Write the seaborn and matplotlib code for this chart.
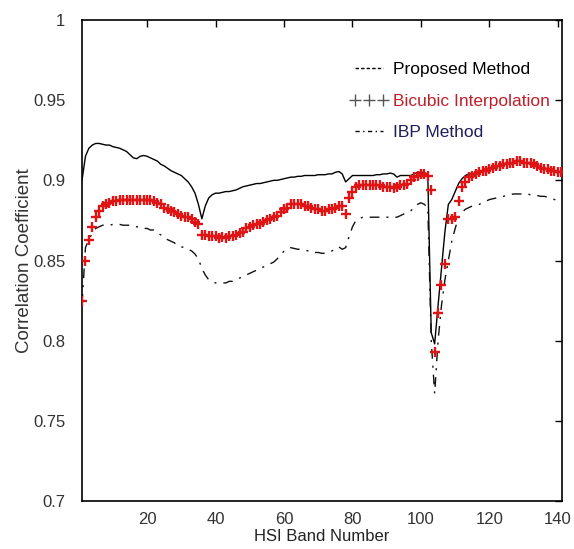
import numpy as np
import pandas as pd
import matplotlib
matplotlib.use("Agg")
import matplotlib.pyplot as plt
from matplotlib.lines import Line2D
import seaborn as sns

bands = list(range(1, 142))

proposed = [
    0.900, 0.915, 0.920, 0.922, 0.923, 0.923, 0.9225, 0.922, 0.922, 0.921,
    0.9205, 0.920, 0.919, 0.918, 0.916, 0.914, 0.9135, 0.915, 0.9155, 0.915,
    0.914, 0.913, 0.912, 0.910, 0.909, 0.9075, 0.906, 0.905, 0.904, 0.903,
    0.901, 0.899, 0.896, 0.892, 0.885, 0.876, 0.884, 0.889, 0.891, 0.892,
    0.892, 0.8925, 0.893, 0.893, 0.8935, 0.894, 0.895, 0.896, 0.8965, 0.897,
    0.8975, 0.898, 0.898, 0.8985, 0.899, 0.8995, 0.900, 0.900, 0.9005, 0.901,
    0.9015, 0.902, 0.902, 0.9025, 0.9025, 0.903, 0.903, 0.903, 0.903, 0.9035,
    0.9035, 0.9035, 0.904, 0.904, 0.905, 0.9055, 0.904, 0.899, 0.901, 0.903,
    0.903, 0.903, 0.903, 0.903, 0.903, 0.903, 0.9035, 0.9035, 0.904, 0.904,
    0.9045, 0.904, 0.902, 0.903, 0.903, 0.903, 0.903, 0.904, 0.905, 0.905,
    0.905, 0.903, 0.805, 0.798, 0.822, 0.845, 0.868, 0.885, 0.888, 0.893,
    0.898, 0.901, 0.903, 0.904, 0.904, 0.905, 0.906, 0.906, 0.907, 0.908,
    0.908, 0.909, 0.909, 0.910, 0.910, 0.911, 0.911, 0.912, 0.912, 0.911,
    0.911, 0.911, 0.910, 0.909, 0.908, 0.907, 0.907, 0.906, 0.906, 0.905,
    0.905,
]

bicubic = [
    0.825, 0.850, 0.863, 0.871, 0.877, 0.881, 0.884, 0.885, 0.886, 0.887,
    0.887, 0.8875, 0.888, 0.888, 0.888, 0.8875, 0.888, 0.888, 0.888, 0.888,
    0.8875, 0.887, 0.886, 0.885, 0.883, 0.882, 0.881, 0.880, 0.879, 0.878,
    0.877, 0.877, 0.876, 0.874, 0.873, 0.866, 0.866, 0.865, 0.865, 0.865,
    0.864, 0.8645, 0.864, 0.865, 0.865, 0.866, 0.867, 0.868, 0.870, 0.871,
    0.872, 0.873, 0.873, 0.874, 0.875, 0.876, 0.877, 0.878, 0.880, 0.882,
    0.883, 0.885, 0.885, 0.885, 0.885, 0.884, 0.884, 0.883, 0.882, 0.882,
    0.881, 0.881, 0.882, 0.882, 0.883, 0.884, 0.884, 0.879, 0.889, 0.893,
    0.896, 0.897, 0.897, 0.897, 0.897, 0.897, 0.897, 0.897, 0.896, 0.896,
    0.896, 0.895, 0.896, 0.897, 0.897, 0.898, 0.900, 0.902, 0.903, 0.904,
    0.904, 0.903, 0.894, 0.793, 0.817, 0.835, 0.848, 0.876, 0.876, 0.877,
    0.887, 0.896, 0.899, 0.902, 0.903, 0.904, 0.905, 0.906, 0.906, 0.907,
    0.908, 0.909, 0.909, 0.910, 0.910, 0.911, 0.911, 0.912, 0.912, 0.911,
    0.911, 0.911, 0.910, 0.909, 0.908, 0.907, 0.907, 0.906, 0.906, 0.905,
    0.905,
]

ibp = [
    0.823, 0.858, 0.863, 0.867, 0.870, 0.871, 0.872, 0.872, 0.872, 0.8725,
    0.8725, 0.8725, 0.872, 0.872, 0.872, 0.8715, 0.871, 0.871, 0.870, 0.870,
    0.869, 0.869, 0.867, 0.866, 0.864, 0.863, 0.862, 0.861, 0.859, 0.8585,
    0.858, 0.857, 0.856, 0.854, 0.851, 0.845, 0.841, 0.838, 0.837, 0.836,
    0.836, 0.836, 0.836, 0.837, 0.837, 0.838, 0.839, 0.840, 0.841, 0.842,
    0.843, 0.844, 0.845, 0.846, 0.847, 0.848, 0.849, 0.851, 0.853, 0.856,
    0.857, 0.858, 0.8575, 0.857, 0.857, 0.8565, 0.856, 0.856, 0.855, 0.855,
    0.8545, 0.8545, 0.855, 0.856, 0.857, 0.8585, 0.857, 0.858, 0.865, 0.871,
    0.875, 0.876, 0.877, 0.877, 0.877, 0.877, 0.877, 0.877, 0.877, 0.877,
    0.877, 0.877, 0.877, 0.878, 0.879, 0.880, 0.881, 0.883, 0.885, 0.886,
    0.885, 0.883, 0.800, 0.767, 0.800, 0.822, 0.838, 0.850, 0.862, 0.870,
    0.877, 0.880, 0.882, 0.883, 0.884, 0.8845, 0.885, 0.886, 0.887, 0.888,
    0.8885, 0.889, 0.8895, 0.890, 0.8905, 0.891, 0.8915, 0.8915, 0.8915, 0.8915,
    0.8915, 0.891, 0.891, 0.8905, 0.890, 0.890, 0.8895, 0.889, 0.888, 0.8875,
    0.887,
]

labels = ["Proposed Method", "Bicubic Interpolation", "IBP Method"]
xticks = [20, 40, 60, 80, 100, 120, 140]
yticks = [0.7, 0.75, 0.8, 0.85, 0.9, 0.95, 1.0]
ytick_labels = ["0.7", "0.75", "0.8", "0.85", "0.9", "0.95", "1"]

sns.set_style("white")
plt.rcParams["font.family"] = ["Liberation Sans", "DejaVu Sans"]

fig = plt.figure(figsize=(5.74, 5.49), dpi=100)
ax = fig.add_axes([0.1429, 0.0874, 0.8362, 0.8762])

df = pd.DataFrame({"band": bands, "proposed": proposed,
                   "bicubic": bicubic, "ibp": ibp})

sns.lineplot(data=df, x="band", y="proposed", color="black", lw=1.0, ax=ax)
sns.lineplot(data=df, x="band", y="ibp", color="#111111", lw=1.0,
             dashes=False, ax=ax)
ax.lines[-1].set_dashes((7, 5, 1.5, 5))
sns.scatterplot(data=df, x="band", y="bicubic", marker="+", s=60,
                linewidths=1.7, color="#e01414", ax=ax, zorder=3)

ax.set_xlim(1, 141.2)
ax.set_ylim(0.7, 1.0)
ax.set_xticks(xticks)
ax.set_xticklabels([str(t) for t in xticks])
ax.set_yticks(yticks)
ax.set_yticklabels(ytick_labels)
ax.tick_params(direction="in", length=5, width=1, top=True, right=True,
               labelsize=12, colors="black")
ax.tick_params(axis="x", labelcolor="#333333", pad=8)
ax.tick_params(axis="y", labelcolor="#333333", pad=12)
for s in ax.spines.values():
    s.set_color("black")
    s.set_linewidth(1.2)

ax.set_xlabel("HSI Band Number", fontsize=12, color="#222222", labelpad=1)
ax.set_ylabel("Correlation Coefficient", fontsize=13.5, color="#333333",
              labelpad=0)

handles = [
    Line2D([], [], color="black", lw=1.0, linestyle=(0, (2.5, 1.5))),
    Line2D([], [], color="#555555", linestyle="none", marker="+",
           markersize=9, markeredgewidth=1.0),
    Line2D([], [], color="black", lw=1.0, linestyle=(0, (3, 2.5, 1, 2.5))),
]
leg = ax.legend(handles, labels, loc="upper left",
                bbox_to_anchor=(350 / 574, 1 - 62 / 549),
                bbox_transform=fig.transFigure, frameon=False,
                fontsize=12.5, handlelength=2.2, handletextpad=0.3,
                labelspacing=0.95, numpoints=3, borderaxespad=0,
                borderpad=0)
text_colors = ["black", "#c0202a", "#1e1e5a"]
for t, c in zip(leg.get_texts(), text_colors):
    t.set_color(c)

fig.savefig("out.png", dpi=100, facecolor="white")
